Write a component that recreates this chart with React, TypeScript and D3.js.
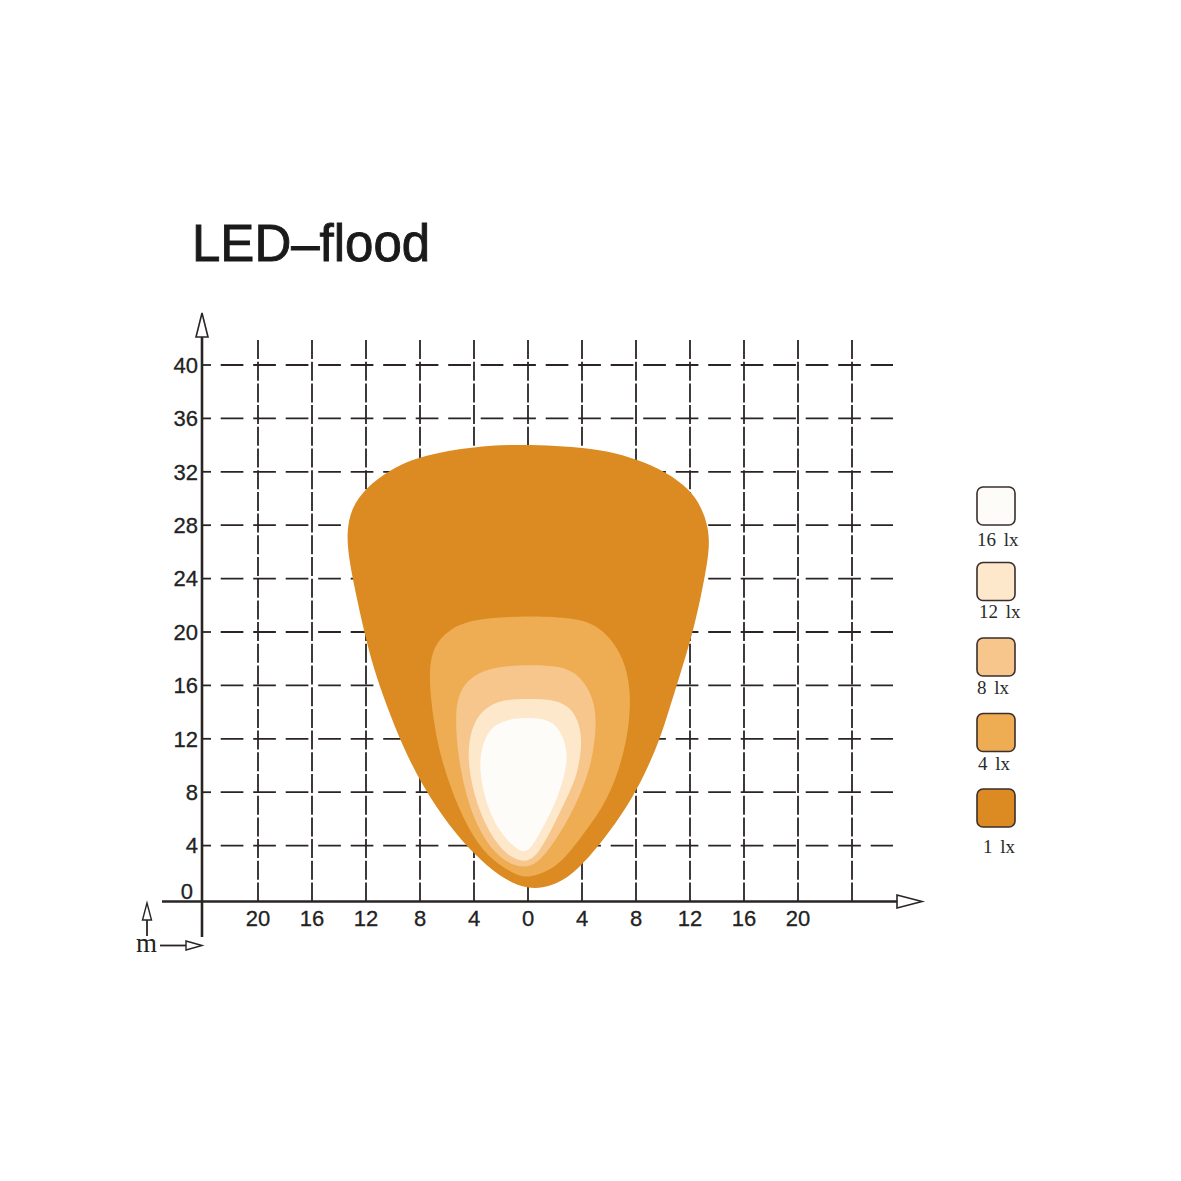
import React from "react";
import * as d3 from "d3";

const title = "LED–flood";
const xTicks = [-20, -16, -12, -8, -4, 0, 4, 8, 12, 16, 20];
const xGrid = [-20, -16, -12, -8, -4, 0, 4, 8, 12, 16, 20, 24];
const yTicks = [0, 4, 8, 12, 16, 20, 24, 28, 32, 36, 40];
const yGrid = [4, 8, 12, 16, 20, 24, 28, 32, 36, 40];

const legendLabels = ["16 lx", "12 lx", "8 lx", "4 lx", "1 lx"];
const legendColors = ["#fdfcf8", "#fde8cb", "#f6c68c", "#eead53", "#db8b21"];

// isolux contours [x (m), y (m)]
const lux1: [number, number][] = [
  [0, 0.7], [-2.07, 1.6], [-4.07, 3.45], [-5.78, 5.39], [-7.78, 8.39],
  [-9.26, 11.39], [-10.44, 14.38], [-11.48, 17.38], [-12.22, 20.37],
  [-12.81, 23.15], [-13.25, 25.39], [-13.45, 27.42], [-13.1, 29.3],
  [-12.0, 30.8], [-10.22, 32.2], [-7.78, 33.25], [-4.07, 33.9], [0, 34.1],
  [5.33, 33.75], [8.07, 32.95], [10.3, 31.95], [11.95, 30.7], [12.85, 29.36],
  [13.35, 27.87], [13.45, 26.37], [13.15, 24.42], [12.65, 21.87], [12.05, 19.4],
  [11.3, 16.93], [10.52, 14.38], [9.75, 11.91], [8.7, 9.44], [7.35, 6.89],
  [5.6, 4.42], [3.33, 1.75], [1.6, 0.9],
];
const lux4: [number, number][] = [
  [0, 1.5], [-1.1, 1.9], [-3.04, 3.15], [-4.52, 5.39], [-5.78, 8.39],
  [-6.67, 11.39], [-7.15, 14.38], [-7.35, 17.15], [-7.0, 18.95],
  [-5.85, 20.25], [-3.93, 21.0], [0, 21.22], [3.48, 21.07], [5.4, 20.4],
  [6.9, 18.5], [7.5, 16.4], [7.6, 14.38], [7.33, 11.91], [6.67, 9.44],
  [5.7, 7.04], [3.63, 4.19], [2.15, 2.35],
];
const lux8: [number, number][] = [
  [0, 2.1], [-2.07, 2.9], [-3.56, 4.94], [-4.52, 7.42], [-5.19, 10.64],
  [-5.4, 13.63], [-5.15, 15.5], [-4.15, 16.75], [-2.44, 17.4], [0, 17.55],
  [2.37, 17.48], [3.9, 16.75], [4.9, 14.95], [5.1, 13.03], [4.7, 10.04],
  [3.93, 8.0], [3.11, 6.14], [1.41, 3.4],
];
const lux12: [number, number][] = [
  [0, 2.65], [-1.56, 3.15], [-3.04, 5.17], [-4.07, 7.94], [-4.5, 10.64],
  [-4.25, 12.7], [-3.4, 14.25], [-1.85, 14.95], [0, 15.0], [2.0, 14.95],
  [3.2, 14.35], [3.85, 13.03], [4.0, 11.54], [3.7, 9.66], [3.33, 8.5],
  [1.85, 5.39], [0.89, 3.6],
];
const lux16: [number, number][] = [
  [0, 3.4], [-0.81, 3.67], [-2.07, 4.94], [-3.04, 6.89], [-3.6, 9.44],
  [-3.5, 11.2], [-2.9, 12.75], [-1.7, 13.45], [0, 13.6], [1.48, 13.45],
  [2.3, 12.8], [2.82, 11.54], [2.95, 10.19], [2.2, 7.42], [0.89, 4.94],
];

const contours = [
  { pts: lux1, color: legendColors[4] },
  { pts: lux4, color: legendColors[3] },
  { pts: lux8, color: legendColors[2] },
  { pts: lux12, color: legendColors[1] },
  { pts: lux16, color: legendColors[0] },
];

const INK = "#2a2524";
const legendLabelDx = [0, 2, 0, 1, 6];
const legendLabelDy = [21, 17, 18, 18, 26];

export default function App() {
  const x = d3.scaleLinear().domain([-20, 20]).range([258, 798]);
  const y = d3.scaleLinear().domain([0, 40]).range([899, 365]);
  const axisX = 202;
  const axisY = 901.5;
  const line = d3
    .line<[number, number]>()
    .x((d) => x(d[0]))
    .y((d) => y(d[1]))
    .curve(d3.curveBasisClosed);

  return (
    <svg
      width={1181}
      height={1181}
      style={{ position: "absolute", left: 0, top: 0, background: "#fff" }}
    >
      <rect width={1181} height={1181} fill="#fff" />
      <text
        x={192}
        y={261}
        fontFamily="Liberation Sans, Arial, sans-serif"
        fontSize={51}
        fill="#1a1a1a"
        stroke="#1a1a1a"
        strokeWidth={0.9}
      >
        {title}
      </text>

      {/* grid */}
      {xGrid.map((v) => (
        <line
          key={"vx" + v}
          x1={x(v)}
          x2={x(v)}
          y1={340}
          y2={axisY}
          stroke={INK}
          strokeWidth={1.8}
          strokeDasharray="19 2.7"
        />
      ))}
      {yGrid.map((v) => (
        <line
          key={"hy" + v}
          x1={220.7}
          x2={893}
          y1={y(v)}
          y2={y(v)}
          stroke={INK}
          strokeWidth={1.8}
          strokeDasharray="22.7 9.8"
        />
      ))}

      {/* contours */}
      {contours.map((c, i) => (
        <path key={i} d={line(c.pts) || ""} fill={c.color} stroke="none" />
      ))}

      {/* axes */}
      <line x1={axisX} x2={axisX} y1={336} y2={937} stroke={INK} strokeWidth={2.6} />
      <line x1={162} x2={897} y1={axisY} y2={axisY} stroke={INK} strokeWidth={2.6} />
      <path
        d={`M${axisX},313 L${axisX - 6},337 L${axisX + 6},337 Z`}
        fill="#fff"
        stroke={INK}
        strokeWidth={1.6}
      />
      <path
        d={`M922,${axisY} L897,${axisY - 6.5} L897,${axisY + 6.5} Z`}
        fill="#fff"
        stroke={INK}
        strokeWidth={1.6}
      />

      {yTicks.map((v) => (
        <g key={"yt" + v}>
          {v > 0 && (
            <line x1={axisX} x2={211} y1={y(v)} y2={y(v)} stroke={INK} strokeWidth={1.8} />
          )}
          <text
            x={v === 0 ? 193 : 198}
            y={v === 0 ? y(v) : y(v) + 7.8}
            textAnchor="end"
            fontFamily="Liberation Sans, Arial, sans-serif"
            fontSize={22}
            fill="#222"
            stroke="#222"
            strokeWidth={0.3}
          >
            {v}
          </text>
        </g>
      ))}
      {xTicks.map((v) => (
        <text
          key={"xt" + v}
          x={x(v)}
          y={925.8}
          textAnchor="middle"
          fontFamily="Liberation Sans, Arial, sans-serif"
          fontSize={22}
          fill="#222"
          stroke="#222"
          strokeWidth={0.3}
        >
          {Math.abs(v)}
        </text>
      ))}

      {/* unit indicator */}
      <line x1={147} x2={147} y1={920} y2={936} stroke={INK} strokeWidth={1.8} />
      <path d="M147,903 L142.5,920 L151.5,920 Z" fill="#fff" stroke={INK} strokeWidth={1.4} />
      <line x1={160} x2={186} y1={945.5} y2={945.5} stroke={INK} strokeWidth={1.8} />
      <path d="M202,945.5 L186,941 L186,950 Z" fill="#fff" stroke={INK} strokeWidth={1.4} />
      <text
        x={136}
        y={951.5}
        fontFamily="Liberation Serif, Times New Roman, serif"
        fontSize={27}
        fill="#222"
      >
        m
      </text>

      {/* legend */}
      {legendLabels.map((lab, i) => {
        const top = 487 + i * 75.5;
        return (
          <g key={lab}>
            <rect
              x={977}
              y={top}
              width={38}
              height={38}
              rx={6}
              fill={legendColors[i]}
              stroke="#3a2f2c"
              strokeWidth={1.6}
            />
            <text
              x={977 + legendLabelDx[i]}
              y={top + 38 + legendLabelDy[i]}
              fontFamily="Liberation Serif, Times New Roman, serif"
              fontSize={19}
              wordSpacing={3}
              fill="#2a2a2a"
            >
              {lab}
            </text>
          </g>
        );
      })}
    </svg>
  );
}
